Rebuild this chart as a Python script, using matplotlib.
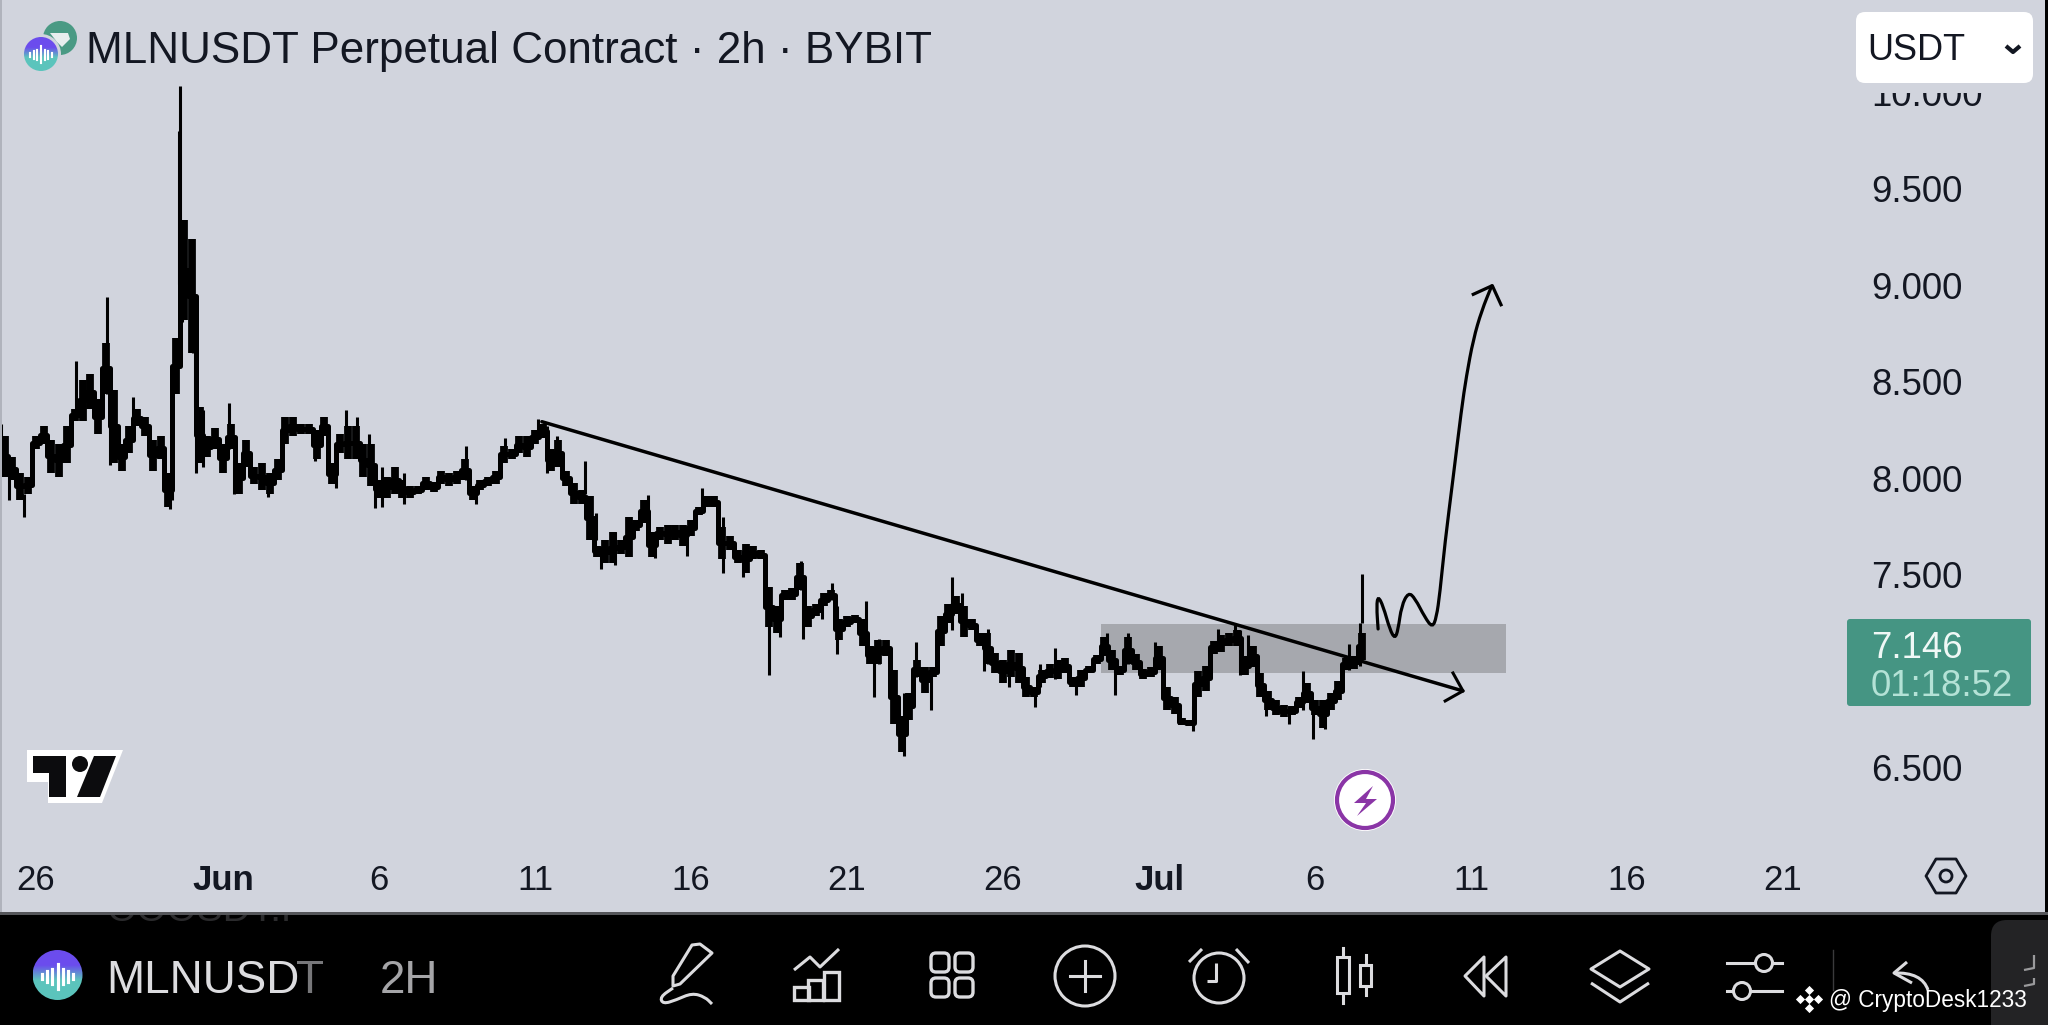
import numpy as np
import matplotlib
matplotlib.use('Agg')
import matplotlib.pyplot as plt
from matplotlib.patches import Circle, FancyBboxPatch, PathPatch, Polygon, Rectangle
from matplotlib.path import Path

plt.rcParams['font.family'] = ['Liberation Sans', 'DejaVu Sans']

# price bars every 6 hours, days counted from 1 June
first_day = -7.0
bar_step = 0.25
band_high = [8.22, 8.11, 8.03, 8.01, 8.22, 8.27, 8.20, 8.18, 8.27, 8.36,
             8.51, 8.54, 8.41, 8.70, 8.46, 8.18, 8.27, 8.36, 8.32, 8.20,
             8.22, 8.03, 8.73, 9.34, 9.24, 8.37, 8.22, 8.26, 8.18, 8.28,
             8.08, 8.20, 8.06, 8.08, 8.03, 8.10, 8.32, 8.32, 8.28, 8.28,
             8.25, 8.32, 8.08, 8.23, 8.27, 8.27, 8.18, 8.18, 7.99, 8.01,
             8.06, 7.99, 7.96, 7.96, 8.01, 7.98, 8.04, 8.03, 8.04, 8.10,
             7.96, 7.99, 8.01, 8.04, 8.17, 8.15, 8.22, 8.22, 8.25, 8.28,
             8.15, 8.20, 8.04, 7.975, 7.94, 7.91, 7.65, 7.68, 7.72, 7.68,
             7.80, 7.785, 7.89, 7.72, 7.75, 7.76, 7.76, 7.76, 7.785, 7.85,
             7.91, 7.91, 7.75, 7.70, 7.63, 7.66, 7.65, 7.63, 7.44, 7.34,
             7.42, 7.43, 7.56, 7.34, 7.35, 7.405, 7.42, 7.27, 7.285, 7.29,
             7.27, 7.13, 7.165, 7.165, 7.01, 6.77, 6.89, 7.06, 7.025, 7.025,
             7.285, 7.35, 7.39, 7.34, 7.27, 7.20, 7.20, 7.095, 7.06, 7.11,
             7.095, 6.97, 6.92, 7.01, 7.04, 7.06, 7.07, 6.97, 7.01, 7.03,
             7.085, 7.18, 7.11, 7.03, 7.18, 7.09, 7.015, 7.025, 7.13, 6.92,
             6.87, 6.76, 6.75, 7.00, 7.03, 7.16, 7.19, 7.20, 7.215, 7.08,
             7.13, 6.99, 6.90, 6.85, 6.825, 6.82, 6.87, 6.94, 6.85, 6.85,
             6.89, 6.95, 7.07, 7.08, 7.20]
band_low = [8.01, 7.99, 7.89, 7.92, 8.15, 8.18, 8.03, 8.01, 8.08, 8.30,
            8.30, 8.36, 8.23, 8.44, 8.08, 8.04, 8.13, 8.27, 8.22, 8.04,
            8.10, 7.85, 8.44, 8.82, 8.65, 8.08, 8.11, 8.15, 8.03, 8.15,
            7.92, 8.06, 7.97, 7.94, 7.92, 7.99, 8.18, 8.22, 8.23, 8.23,
            8.10, 8.22, 7.97, 8.13, 8.10, 8.10, 8.01, 7.96, 7.90, 7.90,
            7.92, 7.90, 7.90, 7.92, 7.94, 7.93, 7.97, 7.96, 7.97, 7.99,
            7.89, 7.94, 7.96, 7.97, 8.08, 8.10, 8.13, 8.11, 8.18, 8.21,
            8.04, 8.06, 7.96, 7.87, 7.87, 7.68, 7.595, 7.56, 7.56, 7.61,
            7.595, 7.73, 7.77, 7.595, 7.68, 7.66, 7.68, 7.65, 7.70, 7.81,
            7.85, 7.85, 7.58, 7.63, 7.56, 7.51, 7.58, 7.58, 7.23, 7.20,
            7.37, 7.37, 7.42, 7.23, 7.285, 7.34, 7.37, 7.165, 7.23, 7.25,
            7.13, 7.04, 7.04, 7.08, 6.73, 6.58, 6.75, 6.97, 6.89, 6.97,
            7.13, 7.25, 7.30, 7.18, 7.215, 7.13, 7.04, 6.99, 6.94, 6.97,
            6.94, 6.87, 6.87, 6.94, 6.965, 6.96, 6.99, 6.92, 6.92, 6.99,
            7.04, 7.08, 7.01, 6.98, 7.04, 7.01, 6.96, 6.97, 7.01, 6.80,
            6.78, 6.72, 6.715, 6.87, 6.90, 7.09, 7.10, 7.13, 7.13, 6.98,
            7.025, 6.87, 6.80, 6.775, 6.765, 6.775, 6.81, 6.835, 6.775, 6.705,
            6.80, 6.85, 7.01, 7.015, 7.06]

# single long wicks sticking out of the mass
wick_day = [-7.12, -6.86, -6.39, -4.71, -3.71, -3.61, -2.90, -1.64, -1.71, -1.42, -1.38,
            -1.31, -0.97, -0.90, -0.85, -0.64, 0.19, 0.36, 1.44, 2.94, 3.61, 3.94, 4.30,
            4.67, 4.87, 5.09, 5.80, 7.79, 8.10, 9.05, 10.09, 10.38, 10.69, 11.60, 11.94,
            12.10, 12.56, 13.61, 13.85, 14.86, 15.36, 16.01, 16.66, 17.51, 17.85, 18.51,
            18.60, 19.19, 19.52, 19.69, 20.61, 20.86, 21.04, 21.81, 22.07, 22.20, 22.69,
            23.35, 23.70, 24.39, 24.53, 25.20, 26.02, 26.19, 26.68, 27.33, 28.32, 28.58,
            29.01, 29.88, 31.09, 31.90, 32.43, 32.59, 32.86, 33.44, 34.17, 34.60, 34.94,
            35.31, 36.08, 36.44, 36.51]
wick_high = [8.28, 8.10, 7.92, 8.61, 8.94, 8.27, 8.42, 8.53, 8.03, 9.80, 10.035,
             9.01, 8.96, 8.73, 8.39, 8.355, 8.39, 8.09, 8.03, 8.25, 8.10, 8.355, 8.32,
             8.23, 8.06, 8.06, 8.03, 8.17, 7.96, 8.21, 8.31, 8.27, 8.22, 8.09, 7.82,
             7.65, 7.72, 7.915, 7.72, 7.72, 7.95, 7.80, 7.63, 7.44, 7.34, 7.57,
             7.42, 7.39, 7.46, 7.34, 7.365, 7.13, 7.17, 6.89, 6.96, 7.155, 7.01,
             7.49, 7.405, 7.20, 7.22, 7.01, 6.92, 7.04, 7.12, 6.97, 7.20, 7.06,
             7.20, 7.15, 6.82, 7.22, 7.24, 7.215, 7.19, 6.90, 6.82, 7.00, 6.85,
             6.85, 7.14, 7.25, 7.505]
wick_low = [8.13, 7.89, 7.80, 8.34, 8.44, 8.07, 8.27, 7.89, 7.84, 9.01, 9.01,
            8.81, 8.65, 8.37, 8.03, 8.06, 8.15, 7.92, 7.905, 8.09, 7.95, 8.18, 8.13,
            8.01, 7.845, 7.85, 7.87, 7.99, 7.87, 8.10, 8.22, 8.03, 8.08, 7.92, 7.68,
            7.53, 7.55, 7.75, 7.59, 7.60, 7.85, 7.51, 7.49, 6.98, 7.18, 7.42,
            7.17, 7.27, 7.37, 7.09, 7.12, 6.87, 7.04, 6.56, 6.82, 6.97, 6.80,
            7.215, 7.30, 7.00, 7.04, 6.92, 6.815, 6.92, 6.96, 6.88, 7.09, 6.88,
            7.04, 7.025, 6.69, 7.15, 7.18, 6.98, 7.06, 6.77, 6.73, 6.80, 6.65,
            6.70, 7.01, 7.03, 7.25]

# drawings
trend_day = [10.22, 39.74]
trend_price = [8.294, 6.899]
trend_head_day = [39.42, 39.74, 39.17]
trend_head_price = [6.992, 6.899, 6.847]
zone_days = (28.14, 41.13)
zone_prices = (6.994, 7.246)
sketch_day = [37.02, 36.97, 37.02, 37.18, 37.40, 37.56, 37.66, 37.77, 37.99, 38.20, 38.52,
              38.76, 38.89, 39.00, 39.16, 39.43, 39.69, 39.85, 40.07, 40.34, 40.66]
sketch_price = [7.22, 7.34, 7.39, 7.34, 7.215, 7.17, 7.215, 7.34, 7.41, 7.38, 7.28,
                7.227, 7.28, 7.405, 7.664, 8.01, 8.355, 8.53, 8.72, 8.87, 8.997]
sketch_head_day = [40.07, 40.68, 40.96]
sketch_head_price = [8.954, 8.999, 8.90]

price_ticks = [10.0, 9.5, 9.0, 8.5, 8.0, 7.5, 6.5]
price_labels = ['10.000', '9.500', '9.000', '8.500', '8.000', '7.500', '6.500']
date_ticks = [-6, 0, 5, 10, 15, 20, 25, 30, 35, 40, 45, 50]
date_labels = ['26', 'Jun', '6', '11', '16', '21', '26', 'Jul', '6', '11', '16', '21']

title = 'MLNUSDT Perpetual Contract · 2h · BYBIT'
BG = '#d1d4dd'
DARK = '#131722'
ICON = '#dcdcdf'

fig = plt.figure(figsize=(20.48, 10.25), dpi=100, facecolor=BG)
ax = fig.add_axes([0, 110 / 1025, 1, 915 / 1025], facecolor=BG)
ax.set_xlim(-7.147, 58.49)
ax.set_ylim(5.738, 10.479)
for s in ax.spines.values():
    s.set_visible(False)

ax.add_patch(Rectangle((zone_days[0], zone_prices[0]), zone_days[1] - zone_days[0],
                       zone_prices[1] - zone_prices[0], color='#a6a8ae', lw=0, zorder=1))

bar_days = first_day + bar_step * np.arange(len(band_high))
ax.vlines(bar_days, band_low, band_high, color='black', lw=5.6, capstyle='butt', zorder=2)
# joins neighbouring bars so the mass stays one piece like the real 2h candles
band_mid = (np.array(band_low) + np.array(band_high)) / 2
ax.plot(bar_days, band_mid, color='black', lw=3.6, drawstyle='steps-mid', zorder=2)
ax.vlines(wick_day, wick_low, wick_high, color='black', lw=2.2, capstyle='butt', zorder=2)

ax.plot(trend_day, trend_price, color='black', lw=2.5, zorder=3, solid_capstyle='round')
ax.plot(trend_head_day, trend_head_price, color='black', lw=2.2, zorder=3)


def smooth_path(xs, ys):
    # quadratic curve through the midpoints of the read points
    pts = list(zip(xs, ys))
    verts = [pts[0]]
    codes = [Path.MOVETO]
    for a, b in zip(pts[:-1], pts[1:]):
        mid = ((a[0] + b[0]) / 2, (a[1] + b[1]) / 2)
        verts += [a, mid]
        codes += [Path.CURVE3, Path.CURVE3]
    verts.append(pts[-1])
    codes.append(Path.LINETO)
    return Path(verts, codes)


ax.add_patch(PathPatch(smooth_path(sketch_day, sketch_price), fill=False, color='black',
                       lw=2.3, zorder=3, capstyle='round'))
ax.plot(sketch_head_day, sketch_head_price, color='black', lw=2.3, zorder=3)

ax.yaxis.tick_right()
ax.set_yticks(price_ticks, price_labels)
ax.tick_params(axis='y', length=0, pad=-127.5, labelsize=26.3, labelcolor=DARK)
for lab in ax.get_yticklabels():
    lab.set_ha('left')
ax.set_xticks(date_ticks, date_labels)
ax.tick_params(axis='x', length=0, pad=-36.5, labelsize=25, labelcolor=DARK)
for lab in ax.get_xticklabels():
    if lab.get_text() in ('Jun', 'Jul'):
        lab.set_fontweight('bold')

# everything else is app interface, drawn in pixel coordinates
ui = fig.add_axes([0, 0, 1, 1], facecolor='none')
ui.set_xlim(0, 2048)
ui.set_ylim(1025, 0)
ui.axis('off')
ui.set_autoscale_on(False)


def poly(points, closed=False, color=ICON, lw=2.2, fill=False, z=6):
    ui.add_patch(Polygon(points, closed=closed, fill=fill, edgecolor=color,
                         facecolor=color if fill else 'none', lw=lw, zorder=z, joinstyle='round'))


def coin(cx, cy, r, halo=None):
    if halo:
        ui.add_patch(Circle((cx, cy), r + 3, color=halo, lw=0, zorder=5))
    grad = np.linspace(0, 1, 64)[:, None, None]
    top = np.array([0.42, 0.30, 0.93])[None, None, :]
    bottom = np.array([0.36, 0.77, 0.74])[None, None, :]
    img = top + (bottom - top) * np.clip((grad - 0.3) / 0.3, 0, 1)
    im = ui.imshow(img, extent=(cx - r, cx + r, cy + r, cy - r), aspect='auto', zorder=6)
    im.set_clip_path(Circle((cx, cy), r, transform=ui.transData))
    for off, half in zip([-.62, -.42, -.22, 0, .22, .42, .62],
                         [.10, .22, .30, .50, .30, .22, .10]):
        ui.plot([cx + off * r, cx + off * r], [cy - half * r + r * .05, cy + half * r + r * .05],
                color='white', lw=r * 0.09, zorder=7)


# header and price scale widgets
ui.add_patch(Rectangle((0, 0), 2, 915, color='#b0b3bc', lw=0, zorder=4))
ui.add_patch(Rectangle((2045, 0), 3, 1025, color='black', lw=0, zorder=4))
ui.add_patch(Circle((60, 38), 17, color='#4a9a84', lw=0, zorder=5))
poly([(50, 33), (68, 33), (70, 39), (62, 47), (57, 42)], closed=True, color='#e8eeee', lw=0, fill=True)
coin(41, 54, 17, halo=BG)
ui.text(86, 52, title, fontsize=31.7, color=DARK, va='center', ha='left', zorder=6)

# the white box has a background strip under it that hides the top of 10.000
ui.add_patch(Rectangle((1850, 60), 190, 33, color=BG, lw=0, zorder=4.5))
ui.add_patch(FancyBboxPatch((1856, 12), 177, 71, boxstyle='round,pad=0,rounding_size=9', lw=0,
                            fc='white', ec='none', zorder=5))
ui.text(1867, 51, 'USDT', fontsize=26, color=DARK, va='center', ha='left', zorder=6)
poly([(2006, 46), (2013, 52), (2020, 46)], color=DARK, lw=3.0)

ui.add_patch(FancyBboxPatch((1847, 619), 184, 87, boxstyle='round,pad=0,rounding_size=3', lw=0,
                            fc='#459583', ec='none', zorder=5))
ui.text(1871, 648, '7.146', fontsize=26.3, color='#f0f8f6', va='center', ha='left', zorder=6)
ui.text(1871, 686, '01:18:52', fontsize=26.3, color='#b4e2d6', va='center', ha='left', zorder=6)

hexa = [(1926, 876), (1936, 859), (1956, 859), (1966, 876), (1956, 893), (1936, 893)]
poly(hexa, closed=True, color=DARK, lw=2.0)
ui.add_patch(Circle((1946, 876), 6, fc='none', ec=DARK, lw=2.0, zorder=6))

# tradingview mark and the lightning badge
poly([(27, 750), (123, 750), (102, 803), (48, 803), (48, 782), (27, 782)], closed=True,
     color='white', lw=0, fill=True, z=5)
poly([(33, 756), (66, 756), (66, 797), (49, 797), (49, 773), (33, 773)], closed=True,
     color='#0c0c0e', lw=0, fill=True)
poly([(94, 756), (116, 756), (100, 797), (77, 797)], closed=True, color='#0c0c0e', lw=0, fill=True)
ui.add_patch(Circle((80, 764), 8, color='#0c0c0e', lw=0, zorder=6))

ui.add_patch(Circle((1365, 800), 31, color='white', lw=0, zorder=5))
ui.add_patch(Circle((1365, 800), 28, fc='none', ec='#8a35a6', lw=3.0, zorder=6))
poly([(1373, 786), (1354, 803), (1366, 803), (1357, 816), (1377, 799), (1366, 799)], closed=True,
     color='#8a35a6', lw=0, fill=True)

# bottom toolbar
ui.add_patch(Rectangle((0, 912), 2048, 3, color='#55565a', lw=0, zorder=4))
ui.add_patch(Rectangle((0, 915), 2048, 110, color='black', lw=0, zorder=4))
ghost = ui.text(106, 911, 'OOOSDT.P', fontsize=28, color='#2b2b2d', va='center', ha='left', zorder=5)
ghost.set_clip_path(Rectangle((0, 915), 2048, 10, transform=ui.transData))
ghost.set_clip_on(True)
coin(57.5, 975, 25)
ui.text(106, 981, 'MLNUSD', fontsize=33, color=ICON, va='center', ha='left', zorder=6)
ui.text(296, 981, 'T', fontsize=33, color='#77777a', va='center', ha='left', zorder=6)
ui.text(380, 981, '2H', fontsize=33, color='#a5a5a8', va='center', ha='left', zorder=6)

# pencil
poly([(692, 945), (700, 944), (712, 953), (680, 984), (673, 986), (673, 976)], closed=True)
ui.add_patch(PathPatch(smooth_path([673, 660, 663, 676, 692, 705, 712], [988, 997, 1004, 1000, 993, 997, 1004]),
                       fill=False, color=ICON, lw=2.2, zorder=6))
# indicators
poly([(794, 970), (810, 957), (820, 967), (839, 949)])
for x0, y0 in [(794, 987), (808, 980), (824, 972)]:
    ui.add_patch(Rectangle((x0, y0), 15, 1000 - y0, fc='none', ec=ICON, lw=2.4, zorder=6))
# layout grid
for x0 in (931, 955):
    for y0 in (953, 978):
        ui.add_patch(FancyBboxPatch((x0, y0), 18, 19, boxstyle='round,pad=0,rounding_size=5',
                                    fc='none', ec=ICON, lw=2.4, zorder=6))
# plus
ui.add_patch(Circle((1085, 976), 30, fc='none', ec=ICON, lw=2.2, zorder=6))
ui.plot([1070, 1100], [976, 976], color=ICON, lw=2.2, zorder=6)
ui.plot([1085, 1085], [961, 991], color=ICON, lw=2.2, zorder=6)
# alarm
ui.add_patch(Circle((1219, 978), 25, fc='none', ec=ICON, lw=2.2, zorder=6))
poly([(1216, 963), (1216, 981), (1207, 981)])
poly([(1189, 962), (1202, 949)])
poly([(1249, 963), (1236, 949)])
# candles
ui.plot([1343, 1343], [948, 1003], color=ICON, lw=2.2, zorder=6)
ui.add_patch(Rectangle((1337, 957), 12, 36, fc='black', ec=ICON, lw=2.2, zorder=7))
ui.plot([1366, 1366], [955, 995], color=ICON, lw=2.2, zorder=6)
ui.add_patch(Rectangle((1360, 965), 11, 21, fc='black', ec=ICON, lw=2.2, zorder=7))
# replay
poly([(1484, 957), (1465, 976), (1484, 996)], closed=True)
poly([(1506, 957), (1486, 976), (1506, 996)], closed=True)
# layers
poly([(1591, 969), (1620, 951), (1649, 969), (1620, 987)], closed=True)
poly([(1591, 983), (1620, 1002), (1649, 983)])
# sliders
ui.plot([1727, 1782], [963, 963], color=ICON, lw=2.2, zorder=6)
ui.add_patch(Circle((1764, 963), 8.5, fc='black', ec=ICON, lw=2.2, zorder=7))
ui.plot([1727, 1782], [991, 991], color=ICON, lw=2.2, zorder=6)
ui.add_patch(Circle((1742, 991), 8.5, fc='black', ec=ICON, lw=2.2, zorder=7))
ui.plot([1833, 1833], [950, 990], color='#3a3a3c', lw=1.0, zorder=6)
# back arrow and side pill
ui.add_patch(FancyBboxPatch((1991, 920), 80, 130, boxstyle='round,pad=0,rounding_size=16', fc='#232325',
                            ec='none', lw=0, zorder=5, clip_on=True))
poly([(1907, 962), (1894, 973), (1912, 983)])
ui.add_patch(PathPatch(Path([(1894, 973), (1922, 972), (1928, 990)], [Path.MOVETO, Path.CURVE3, Path.CURVE3]),
                       fill=False, color=ICON, lw=2.2, zorder=6))
poly([(2034, 955), (2034, 968), (2024, 970)], color='#9a9a9c', lw=1.6)
poly([(2034, 978), (2034, 984), (2024, 986)], color='#9a9a9c', lw=1.6)

# watermark
ui.scatter([1809, 1800, 1818, 1809, 1809], [999, 999, 999, 990, 1008], marker='D', s=22,
           color='white', lw=0, zorder=8)
ui.text(1829, 1001, '@ CryptoDesk1233', fontsize=16.3, color='white', va='center', ha='left', zorder=8)

fig.savefig('out.png', dpi=100, facecolor=BG)
